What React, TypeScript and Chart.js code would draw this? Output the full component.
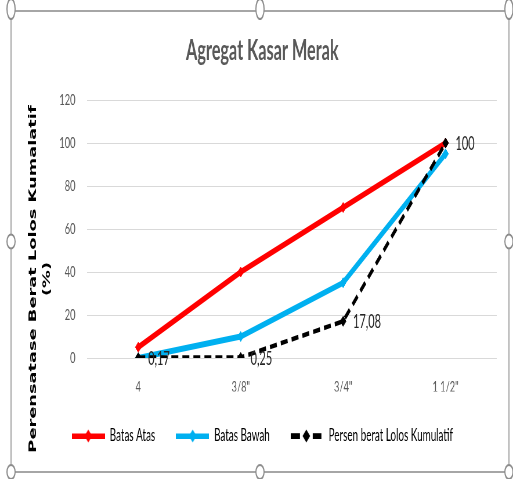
import React, { useEffect, useRef } from "react";
import { Chart, registerables } from "chart.js";

Chart.register(...registerables);

const categories = ["4", '3/8"', '3/4"', '1 1/2"'];
const batasAtas = [5, 40, 70, 100];
const batasBawah = [0, 10, 35, 95];
const persenLolos = [0.17, 0.25, 17.08, 100];
const yTicks = [0, 20, 40, 60, 80, 100, 120];
const seriesNames = ["Batas Atas", "Batas Bawah", "Persen berat Lolos Kumulatif"];
const seriesColors = ["#FF0000", "#00B0F0", "#000000"];
const chartTitle = "Agregat Kasar Merak";
const yTitleLines = ["Perensatase Berat Lolos Kumalatif", "(%)"];

const W = 884;
const H = 479;
const SCALE = 513 / W;

function diamond(ctx: CanvasRenderingContext2D, x: number, y: number, r: number) {
  ctx.beginPath();
  ctx.moveTo(x - r, y);
  ctx.lineTo(x, y - r);
  ctx.lineTo(x + r, y);
  ctx.lineTo(x, y + r);
  ctx.closePath();
  ctx.fill();
}

function makeSample(color: string, dashed: boolean): HTMLCanvasElement {
  const c = document.createElement("canvas");
  c.width = 57;
  c.height = 14;
  const ctx = c.getContext("2d")!;
  ctx.fillStyle = color;
  if (!dashed) {
    ctx.fillRect(0, 4.5, 57, 5.5);
    diamond(ctx, 28.5, 7, 6.5);
  } else {
    ctx.fillRect(0, 4.2, 16, 5.8);
    ctx.fillRect(38, 4.2, 15, 5.8);
    diamond(ctx, 27, 7, 6.5);
  }
  return c;
}

const decorPlugin = {
  id: "decor",
  beforeDraw(chart: any) {
    const ctx = chart.ctx as CanvasRenderingContext2D;
    ctx.save();
    ctx.fillStyle = "#ffffff";
    ctx.fillRect(0, 0, W, H);
    ctx.strokeStyle = "#A6A6A6";
    ctx.lineWidth = 2;
    ctx.strokeRect(19, 11, 858, 461);
    ctx.restore();
  },
  afterDatasetsDraw(chart: any) {
    const ctx = chart.ctx as CanvasRenderingContext2D;
    const meta = chart.getDatasetMeta(2);
    ctx.save();
    ctx.font = "19px Lato";
    ctx.fillStyle = "#262626";
    ctx.textAlign = "left";
    ctx.textBaseline = "middle";
    meta.data.forEach((el: any, i: number) => {
      ctx.fillText(String(persenLolos[i]).replace(".", ","), el.x + 17, el.y + 1);
    });
    ctx.restore();
  },
  afterDraw(chart: any) {
    const ctx = chart.ctx as CanvasRenderingContext2D;
    ctx.save();
    ctx.font = 'bold 17.8px "DejaVu Sans"';
    ctx.fillStyle = "#000000";
    ctx.textAlign = "center";
    ctx.textBaseline = "middle";
    const xs = [57.5, 81.8];
    yTitleLines.forEach((line, i) => {
      ctx.save();
      ctx.translate(xs[i], 279);
      ctx.rotate(-Math.PI / 2);
      ctx.fillText(line, 0, 0);
      ctx.restore();
    });
    // selection handles
    const hx = [19, 448, 877];
    const hy = [9, 241.5, 472];
    ctx.fillStyle = "#ffffff";
    ctx.strokeStyle = "#8C8C8C";
    ctx.lineWidth = 2;
    hy.forEach((y, yi) => {
      hx.forEach((x, xi) => {
        if (xi === 1 && yi === 1) return;
        ctx.beginPath();
        ctx.ellipse(x, y, 7, yi === 0 ? 10 : 7, 0, 0, Math.PI * 2);
        ctx.fill();
        ctx.stroke();
      });
    });
    ctx.restore();
  },
};

export default function App() {
  const ref = useRef<HTMLCanvasElement>(null);

  useEffect(() => {
    const canvas = ref.current!;
    const samples = [
      makeSample(seriesColors[0], false),
      makeSample(seriesColors[1], false),
      makeSample(seriesColors[2], true),
    ];
    const chart = new Chart(canvas, {
      type: "line",
      data: {
        labels: categories,
        datasets: [
          {
            label: seriesNames[0],
            data: batasAtas,
            borderColor: seriesColors[0],
            backgroundColor: seriesColors[0],
            borderWidth: 6,
            pointStyle: "rectRot",
            pointRadius: 5,
            pointBorderWidth: 1,
            tension: 0,
            order: 2,
          },
          {
            label: seriesNames[1],
            data: batasBawah,
            borderColor: seriesColors[1],
            backgroundColor: seriesColors[1],
            borderWidth: 6,
            pointStyle: "rectRot",
            pointRadius: 5,
            pointBorderWidth: 1,
            tension: 0,
            order: 1,
          },
          {
            label: seriesNames[2],
            data: persenLolos,
            borderColor: seriesColors[2],
            backgroundColor: seriesColors[2],
            borderWidth: 4.5,
            borderDash: [12, 7],
            pointStyle: "rectRot",
            pointRadius: 5,
            pointBorderWidth: 1,
            tension: 0,
            order: 0,
          },
        ],
      },
      options: {
        responsive: false,
        animation: false,
        devicePixelRatio: 1,
        layout: { padding: { top: 10, left: 48, right: 28, bottom: 24.5 } },
        plugins: {
          title: {
            display: true,
            text: chartTitle,
            color: "#595959",
            font: { family: "Lato", size: 28, weight: "bold" },
            padding: { top: 24.4, bottom: 32 },
          },
          legend: {
            position: "bottom",
            labels: {
              usePointStyle: true,
              pointStyleWidth: 57,
              padding: 36,
              color: "#595959",
              font: { family: "Lato", size: 17 },
              generateLabels: () =>
                seriesNames.map((t, i) => ({
                  text: t,
                  pointStyle: samples[i],
                  fillStyle: seriesColors[i],
                  strokeStyle: seriesColors[i],
                  lineWidth: 0,
                  hidden: false,
                  datasetIndex: i,
                })),
            },
          },
          tooltip: { enabled: false },
        },
        scales: {
          x: {
            offset: true,
            grid: { display: false, drawTicks: false, offset: true },
            border: { display: false },
            ticks: { padding: 19, color: "#595959", font: { family: "Lato", size: 16 } },
            afterFit: (s: any) => {
              s.height = 33.5;
            },
          },
          y: {
            min: 0,
            max: 120,
            grid: { color: "#D9D9D9", lineWidth: 1, drawTicks: false },
            border: { display: false },
            ticks: { padding: 20, color: "#595959", font: { family: "Lato", size: 16 } },
            afterBuildTicks: (s: any) => {
              s.ticks = yTicks.map((v) => ({ value: v }));
            },
            afterFit: (s: any) => {
              s.width = 102;
            },
          },
        },
      },
      plugins: [decorPlugin],
    } as any);
    return () => chart.destroy();
  }, []);

  return (
    <div
      style={{
        position: "absolute",
        left: 0,
        top: 0,
        width: 513,
        height: 479,
        overflow: "hidden",
        background: "#ffffff",
      }}
    >
      <div style={{ width: W, height: H, transform: `scaleX(${SCALE})`, transformOrigin: "0 0" }}>
        <canvas ref={ref} width={W} height={H} style={{ display: "block", width: W, height: H }} />
      </div>
    </div>
  );
}
